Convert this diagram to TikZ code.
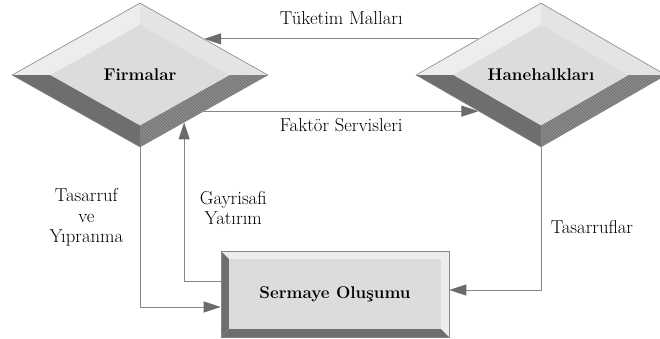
\documentclass[tikz,border=0pt]{standalone}
\usepackage{tikz}
\usetikzlibrary{shapes.geometric,arrows.meta,calc,patterns}

\definecolor{facegray}{HTML}{DCDCDC}
\definecolor{lightbev}{HTML}{EDEDED}
\definecolor{darkbev}{HTML}{6E6E6E}
\definecolor{hatchbev}{HTML}{8C8C8C}
\definecolor{linegray}{HTML}{858585}
\definecolor{tipgray}{HTML}{6B6B6B}

\newcommand{\lbl}{\fontsize{18.7}{20.5}\selectfont}
\newcommand{\blbl}{\fontsize{17}{20}\selectfont\bfseries}

% faces of the raised diamond
\newcommand{\diamondfaces}{%
  \coordinate (dn) at (path picture bounding box.north);
  \coordinate (de) at (path picture bounding box.east);
  \coordinate (ds) at (path picture bounding box.south);
  \coordinate (dw) at (path picture bounding box.west);
  \coordinate (fn) at ($(path picture bounding box.center)!0.7!(dn)$);
  \coordinate (fe) at ($(path picture bounding box.center)!0.7!(de)$);
  \coordinate (fs) at ($(path picture bounding box.center)!0.7!(ds)$);
  \coordinate (fw) at ($(path picture bounding box.center)!0.7!(dw)$);
  \fill[lightbev] (dw) -- (dn) -- (fn) -- (fw) -- cycle;
  \fill[lightbev!92!gray] (dn) -- (de) -- (fe) -- (fn) -- cycle;
  \fill[darkbev] (dw) -- (fw) -- (fs) -- (ds) -- cycle;
  \fill[hatchbev] (fs) -- (fe) -- (de) -- (ds) -- cycle;
  \fill[pattern=north west lines, pattern color=darkbev] (fs) -- (fe) -- (de) -- (ds) -- cycle;
  \fill[facegray] (fn) -- (fe) -- (fs) -- (fw) -- cycle;
}

% faces of the raised box
\newcommand{\boxfaces}{%
  \coordinate (bnw) at (path picture bounding box.north west);
  \coordinate (bne) at (path picture bounding box.north east);
  \coordinate (bse) at (path picture bounding box.south east);
  \coordinate (bsw) at (path picture bounding box.south west);
  \coordinate (inw) at ([xshift=8pt,yshift=-8pt]bnw);
  \coordinate (ine) at ([xshift=-8pt,yshift=-8pt]bne);
  \coordinate (ise) at ([xshift=-8pt,yshift=8pt]bse);
  \coordinate (isw) at ([xshift=8pt,yshift=8pt]bsw);
  \fill[lightbev] (bnw) -- (bne) -- (ine) -- (inw) -- cycle;
  \fill[lightbev] (bne) -- (bse) -- (ise) -- (ine) -- cycle;
  \fill[darkbev] (bsw) -- (bse) -- (ise) -- (isw) -- cycle;
  \fill[darkbev] (bnw) -- (inw) -- (isw) -- (bsw) -- cycle;
  \fill[facegray] (inw) -- (ine) -- (ise) -- (isw) -- cycle;
}

\tikzset{
  bevel diamond/.style={diamond, minimum width=256pt, minimum height=144pt, inner sep=0pt,
    draw=linegray, line width=0.6pt, font=\blbl, path picture={\diamondfaces}},
  bevel box/.style={rectangle, minimum width=228pt, minimum height=86pt, inner sep=0pt,
    draw=linegray, line width=0.6pt, font=\blbl, path picture={\boxfaces}},
  flow/.style={draw=linegray, line width=1pt, -{Triangle[length=17pt,width=11pt,color=tipgray]}},
  lab/.style={font=\lbl, align=center}
}

\begin{document}
\begin{tikzpicture}[x=1pt,y=-1pt]
  \useasboundingbox (0,0) rectangle (660,338);

  \node[bevel diamond] (firm) at (140,75) {Firmalar};
  \node[bevel diamond, minimum width=250pt] (hane) at (541,75) {Hanehalkları};
  \node[bevel box] (serm) at (335,294) {Sermaye Oluşumu};

  \coordinate (firm-ne) at ($(firm.north)!0.5!(firm.east)$);
  \coordinate (firm-se) at ($(firm.south)!0.5!(firm.east)$);
  \coordinate (firm-gy) at ($(firm.south)!0.344!(firm.east)$);
  \coordinate (hane-nw) at ($(hane.north)!0.5!(hane.west)$);
  \coordinate (hane-sw) at ($(hane.south)!0.5!(hane.west)$);

  \path
  (hane-nw) edge[flow] node [above=10pt, lab] {Tüketim Malları} (firm-ne)
  (firm-se) edge[flow] node [below=3pt, lab] {Faktör Servisleri} (hane-sw)
  ;
  \draw[flow] (firm.south) |- node [pos=0.22, left=13pt, lab] {Tasarruf\\ve\\Yıpranma} ([yshift=-13pt]serm.west);
  \draw[flow] ([yshift=13pt]serm.west) -| node [pos=0.73, right=12pt, lab] {Gayrisafi\\Yatırım} (firm-gy);
  \draw[flow] (hane.south) |- node [pos=0.28, right=6pt, lab] {Tasarruflar} ([yshift=4pt]serm.east);
\end{tikzpicture}
\end{document}
